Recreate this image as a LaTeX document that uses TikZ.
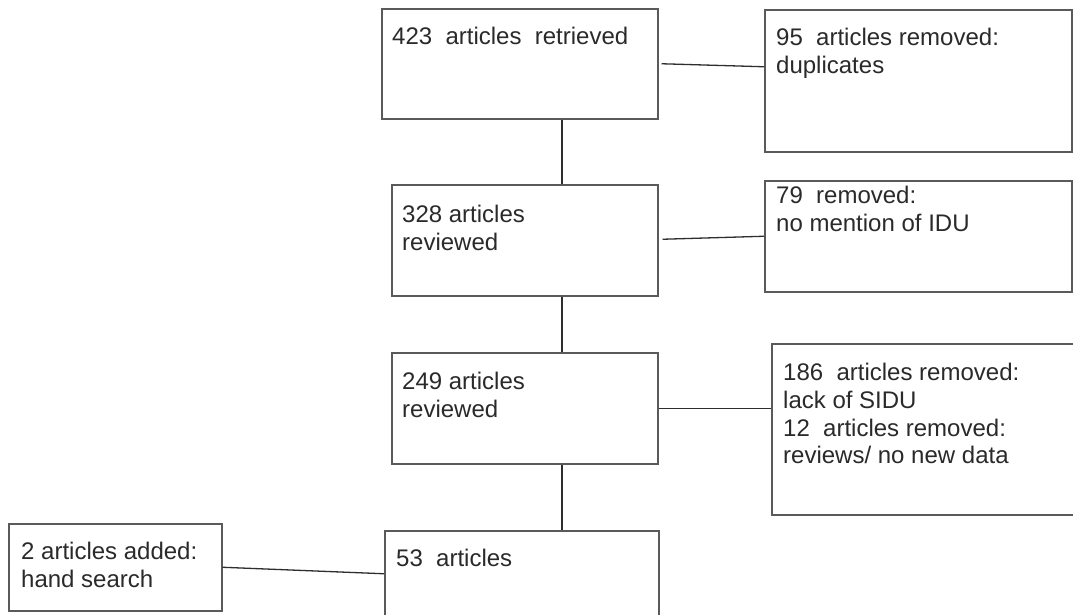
\documentclass[tikz,border=0pt]{standalone}
\usepackage{fontspec}
\setmainfont{Liberation Sans}
\definecolor{boxgray}{HTML}{5A5A5A}
\definecolor{linegray}{HTML}{2E2E2E}
\definecolor{txtgray}{HTML}{2A2A2A}
\begin{document}
\begin{tikzpicture}[x=1pt,y=-1pt,
  box/.style={draw=boxgray, line width=1.5pt, inner sep=0pt, anchor=north west, fill=white},
  txt/.style={anchor=north west, inner sep=0pt, align=left, text=txtgray,
    font=\fontsize{24}{27.7}\selectfont},
  conn/.style={draw=linegray, line width=1.3pt}]
\useasboundingbox (0,0) rectangle (1073,614);
\clip (0,0) rectangle (1073,614);
\fill[white] (0,0) rectangle (1073,614);
% boxes
\node[box, minimum width=276pt, minimum height=110pt] (b1) at (381,8) {};
\node[box, minimum width=307pt, minimum height=142pt] (b2) at (764,9) {};
\node[box, minimum width=266pt, minimum height=111pt] (b3) at (391,184) {};
\node[box, minimum width=307pt, minimum height=111pt] (b4) at (764,180) {};
\node[box, minimum width=266pt, minimum height=111pt] (b5) at (391,352) {};
\node[box, minimum width=307pt, minimum height=171pt] (b6) at (771,343) {};
\node[box, minimum width=274pt, minimum height=86pt] (b7) at (384,530) {};
\node[box, minimum width=213pt, minimum height=87pt] (b8) at (8,523) {};
% texts
\node[txt] (t1) at ([shift={(11,19)}]b1.north west) {423~~articles~~retrieved};
\node[txt] (t2) at ([shift={(12,19)}]b2.north west) {95~~articles removed:\\duplicates};
\node[txt] (t3) at ([shift={(11,21)}]b3.north west) {328 articles\\reviewed};
\node[txt] (t4) at ([shift={(12,6)}]b4.north west) {79~~removed:\\no mention of IDU};
\node[txt] (t5) at ([shift={(11,20)}]b5.north west) {249 articles\\reviewed};
\node[txt] (t6) at ([shift={(12,20)}]b6.north west) {186~~articles removed:\\lack of SIDU\\12~~articles removed:\\reviews/ no new data};
\node[txt] (t7) at ([shift={(12,19)}]b7.north west) {53~~articles};
\node[txt] (t8) at ([shift={(13,19)}]b8.north west) {2 articles added:\\hand search};
% spine
\coordinate (spine) at (562,0);
\draw[conn] (b1.south -| spine) -- (b3.north -| spine);
\draw[conn] (b3.south -| spine) -- (b5.north -| spine);
\draw[conn] (b5.south -| spine) -- (b7.north -| spine);
% side connectors
\draw[conn] ([xshift=3pt]b1.east) -- ([yshift=14pt]b2.west);
\draw[conn] ([xshift=4pt,yshift=1pt]b3.east) -- (b4.west);
\draw[conn] (b5.east) -- (b5.east -| b6.west);
\draw[conn] (b8.east) -- (b7.west);
\end{tikzpicture}
\end{document}
